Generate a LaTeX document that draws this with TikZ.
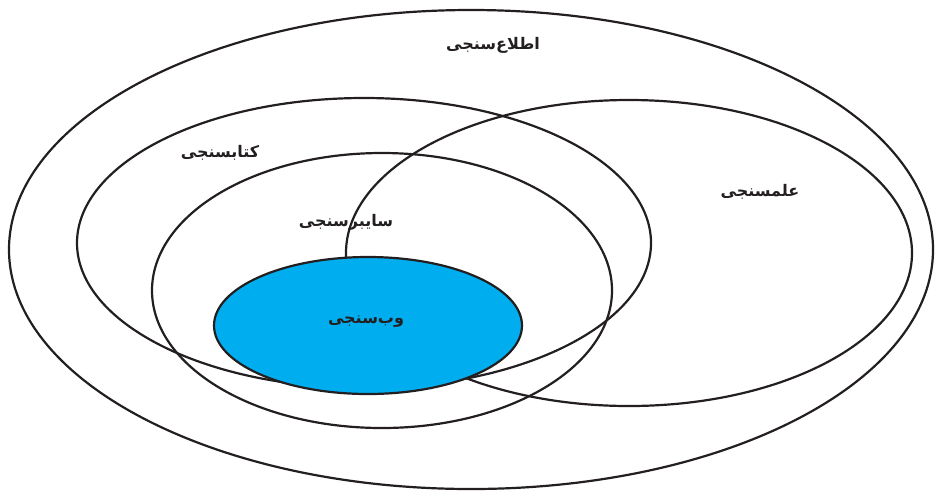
\documentclass[tikz,border=0pt]{standalone}
\usepackage{fontspec}
\newfontfamily\arabicfont[Script=Arabic]{DejaVu Sans}
\TeXXeTstate=1
\definecolor{webblue}{HTML}{00AEEF}
\definecolor{inkline}{HTML}{231F20}
\begin{document}
\begin{tikzpicture}[x=1pt,y=-1pt,
  ring/.style={draw=inkline,line width=2.2pt},
  lbl/.style={font=\arabicfont\bfseries\fontsize{16}{18}\selectfont,text=inkline,inner sep=0pt}]
\useasboundingbox (0,0) rectangle (941,491);
\path[ring] (471,249.5) ellipse [x radius=462, y radius=239.5];
\path[ring] (364,243) ellipse [x radius=287, y radius=145];
\path[ring] (629,253) ellipse [x radius=283, y radius=153];
\path[ring] (382,290.5) ellipse [x radius=230, y radius=137.5];
\path[ring,fill=webblue] (368,325.5) ellipse [x radius=154, y radius=68.5];
\node[lbl] (info) at (493,45) {\beginR اطلاع^^^^200cسنجی\endR};
\node[lbl] (biblio) at (220,153) {\beginR کتابسنجی\endR};
\node[lbl] (scient) at (760,192) {\beginR علمسنجی\endR};
\node[lbl] (cyber) at (346,222) {\beginR سایبرسنجی\endR};
\node[lbl] (webo) at (366,322) {\beginR وب^^^^200cسنجی\endR};
\end{tikzpicture}
\end{document}
